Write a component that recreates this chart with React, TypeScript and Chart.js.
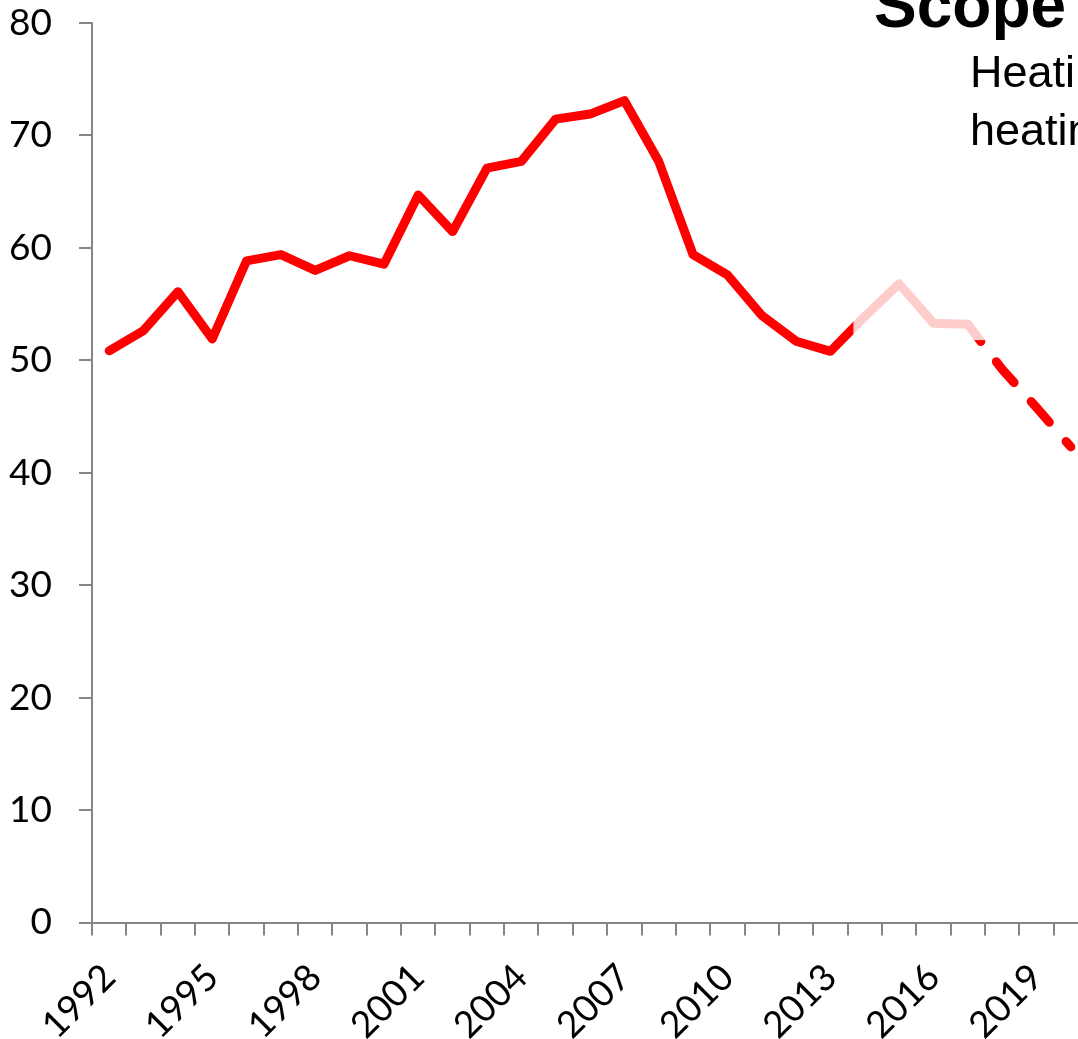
import React, { useEffect, useRef } from "react";
import { Chart, registerables } from "chart.js";

Chart.register(...registerables);

// ---- data ----
const years: string[] = [
  "1992", "1993", "1994", "1995", "1996", "1997", "1998", "1999", "2000", "2001",
  "2002", "2003", "2004", "2005", "2006", "2007", "2008", "2009", "2010", "2011",
  "2012", "2013", "2014", "2015", "2016", "2017", "2018", "2019", "2020",
];

// measured values 1992-2017 (solid line)
const actualValues: (number | null)[] = [
  50.85, 52.65, 56.1, 51.9, 58.85, 59.4, 58.0, 59.3, 58.55, 64.7,
  61.45, 67.1, 67.7, 71.45, 71.9, 73.1, 67.7, 59.4, 57.6, 54.0,
  51.7, 50.8, 53.9, 56.8, 53.3, 53.2, null, null, null,
];

// projection 2017-2020 (dashed line)
const projectionValues: (number | null)[] = [
  null, null, null, null, null, null, null, null, null, null,
  null, null, null, null, null, null, null, null, null, null,
  null, null, null, null, null, 53.2, 49.2, 45.8, 42.3,
];

const yMin = 0;
const yMax = 80;
const yStep = 10;
const labelEvery = 3;

// faded (semi-transparent white) band in data units: category index range & value range
const fadeFromIndex = 21.67;
const fadeToIndex = 26.8;
const fadeBelowValue = 51.8;
const fadeAboveValue = 64;

const titleText = "Scope";
const subtitleLines = ["Heating", "heating"];

const AXIS_GREY = "#868686";
const LINE_RED = "#FF0000";
const TICK_FONT = { family: "Lato", size: 37 };

const fadePlugin = {
  id: "fadeBand",
  afterDatasetsDraw(chart: any) {
    const { ctx, scales } = chart;
    const x = scales.x;
    const y = scales.y;
    const left = x.getPixelForValue(fadeFromIndex);
    const right = x.getPixelForValue(fadeToIndex);
    const top = y.getPixelForValue(fadeAboveValue);
    const bottom = y.getPixelForValue(fadeBelowValue);
    ctx.save();
    ctx.fillStyle = "rgba(255,255,255,0.8)";
    ctx.fillRect(left, top, right - left, bottom - top);
    ctx.restore();
  },
};

export default function App() {
  const canvasRef = useRef<HTMLCanvasElement | null>(null);

  useEffect(() => {
    const canvas = canvasRef.current;
    if (!canvas) return;
    const chart = new Chart(canvas, {
      type: "line",
      data: {
        labels: years,
        datasets: [
          {
            data: actualValues,
            borderColor: LINE_RED,
            backgroundColor: LINE_RED,
            borderWidth: 9,
            pointRadius: 0,
            borderJoinStyle: "round",
            borderCapStyle: "round",
            tension: 0,
            fill: false,
          },
          {
            data: projectionValues,
            borderColor: LINE_RED,
            backgroundColor: LINE_RED,
            borderWidth: 9,
            pointRadius: 0,
            borderJoinStyle: "round",
            borderCapStyle: "round",
            borderDash: [27.5, 25.5],
            borderDashOffset: 6,
            tension: 0,
            fill: false,
          },
        ],
      },
      options: {
        responsive: false,
        animation: false,
        events: [],
        layout: { padding: 0 },
        plugins: {
          legend: { display: false },
          tooltip: { enabled: false },
          title: { display: false },
        },
        scales: {
          x: {
            type: "category",
            offset: true,
            grid: {
              offset: true,
              drawOnChartArea: false,
              drawTicks: true,
              tickLength: 13,
              color: AXIS_GREY,
              lineWidth: 2,
            },
            border: { color: AXIS_GREY, width: 2 },
            ticks: {
              autoSkip: false,
              maxRotation: 45,
              minRotation: 45,
              padding: 20,
              color: "#000",
              font: TICK_FONT,
              callback: (_v: any, i: number) => (i % labelEvery === 0 ? years[i] : ""),
            },
            afterFit: (s: any) => {
              s.height = 116.5;
              s.paddingLeft = 0;
              s.paddingRight = 12;
            },
          },
          y: {
            min: yMin,
            max: yMax,
            grid: {
              drawOnChartArea: false,
              drawTicks: true,
              tickLength: 13,
              color: AXIS_GREY,
              lineWidth: 2,
            },
            border: { color: AXIS_GREY, width: 2 },
            ticks: {
              stepSize: yStep,
              padding: 27,
              color: "#000",
              font: TICK_FONT,
            },
            afterFit: (s: any) => {
              s.width = 92;
              s.paddingTop = 23;
              s.paddingBottom = 0;
            },
          },
        },
      },
      plugins: [fadePlugin],
    } as any);
    return () => chart.destroy();
  }, []);

  return (
    <div
      style={{
        position: "fixed",
        left: 0,
        top: 0,
        width: 1078,
        height: 1039,
        overflow: "hidden",
        background: "#fff",
      }}
    >
      <canvas
        ref={canvasRef}
        width={1100}
        height={1039}
        style={{ position: "absolute", left: 0, top: 0, width: 1100, height: 1039 }}
      />
      <div
        style={{
          position: "absolute",
          left: 874,
          top: -27,
          fontFamily: "'Liberation Sans', Arial, sans-serif",
          fontWeight: "bold",
          fontSize: 64,
          lineHeight: "64px",
          whiteSpace: "nowrap",
          color: "#000",
        }}
      >
        {titleText}
      </div>
      {subtitleLines.map((t, i) => (
        <div
          key={i}
          style={{
            position: "absolute",
            left: 970,
            top: 49 + i * 58,
            fontFamily: "'Liberation Sans', Arial, sans-serif",
            fontSize: 45,
            lineHeight: "45px",
            whiteSpace: "nowrap",
            color: "#000",
          }}
        >
          {t}
        </div>
      ))}
    </div>
  );
}
